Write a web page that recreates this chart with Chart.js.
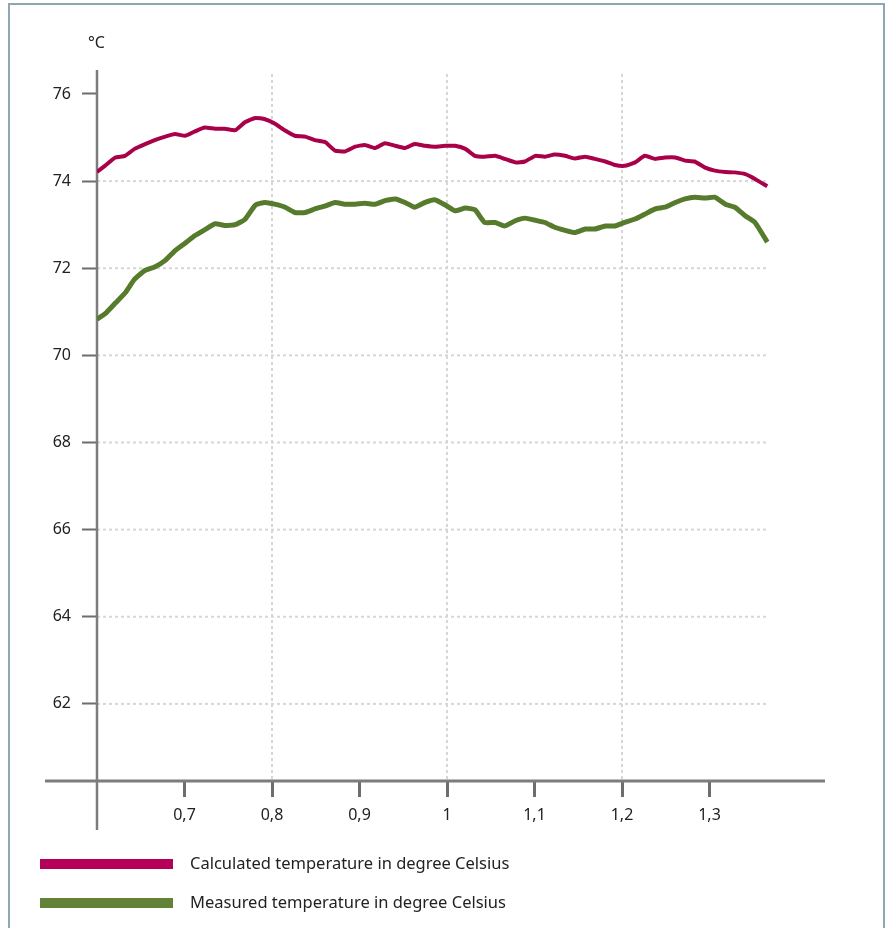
<!DOCTYPE html>
<html>
<head>
<meta charset="utf-8">
<script src="https://cdn.jsdelivr.net/npm/chart.js@4"></script>
<style>
  body { margin: 0; background: #fff; font-family: "Noto Sans", sans-serif; }
  #wrap { position: relative; width: 885px; height: 928px; overflow: hidden; }
  #frame { position: absolute; left: 8px; top: 3px; width: 873px; height: 940px; border: 2px solid #8ea7b7; }
  #unit { position: absolute; left: 88px; top: 31px; font-size: 16px; color: #222; }
  .leg { position: absolute; left: 40px; height: 10px; width: 133px; }
  .legText { position: absolute; left: 190px; font-size: 16.5px; color: #222; }
  canvas { position: absolute; left: 0; top: 0; }
</style>
</head>
<body>
<div id="wrap">
  <div id="frame"></div>
  <canvas id="chart" width="885" height="928"></canvas>
  <div id="unit">°C</div>
  <div class="leg" style="top:859px; background:#b40058;"></div>
  <div class="legText" style="top:851px;">Calculated temperature in degree Celsius</div>
  <div class="leg" style="top:898px; background:#628238;"></div>
  <div class="legText" style="top:890px;">Measured temperature in degree Celsius</div>
</div>
<script>
//datos
const xValues = [0.600, 0.609, 0.621, 0.632, 0.643, 0.655, 0.666, 0.678, 0.689, 0.701,
  0.712, 0.723, 0.735, 0.746, 0.758, 0.769, 0.781, 0.792, 0.803, 0.815,
  0.826, 0.838, 0.849, 0.861, 0.872, 0.883, 0.895, 0.906, 0.918, 0.929,
  0.941, 0.952, 0.963, 0.975, 0.986, 0.998, 1.009, 1.021, 1.032, 1.043,
  1.055, 1.066, 1.078, 1.089, 1.101, 1.112, 1.123, 1.135, 1.146, 1.158,
  1.169, 1.181, 1.192, 1.203, 1.215, 1.226, 1.238, 1.249, 1.261, 1.272,
  1.283, 1.295, 1.306, 1.318, 1.329, 1.341, 1.352, 1.366];

const calculated = [74.21, 74.35, 74.54, 74.58, 74.74, 74.85, 74.94, 75.02, 75.08, 75.04,
  75.14, 75.23, 75.20, 75.20, 75.17, 75.35, 75.45, 75.42, 75.32, 75.16,
  75.04, 75.02, 74.94, 74.89, 74.70, 74.68, 74.79, 74.83, 74.76, 74.87,
  74.81, 74.76, 74.85, 74.81, 74.79, 74.81, 74.81, 74.74, 74.58, 74.56,
  74.58, 74.51, 74.43, 74.45, 74.58, 74.56, 74.61, 74.58, 74.52, 74.56,
  74.51, 74.45, 74.37, 74.35, 74.43, 74.58, 74.51, 74.54, 74.54, 74.47,
  74.45, 74.31, 74.24, 74.21, 74.20, 74.16, 74.05, 73.88];

const measured = [70.83, 70.95, 71.20, 71.43, 71.75, 71.95, 72.03, 72.18, 72.40, 72.58,
  72.75, 72.88, 73.02, 72.98, 73.00, 73.12, 73.45, 73.51, 73.47, 73.40,
  73.28, 73.28, 73.36, 73.43, 73.51, 73.47, 73.47, 73.49, 73.47, 73.55,
  73.59, 73.51, 73.40, 73.51, 73.57, 73.45, 73.32, 73.38, 73.34, 73.05,
  73.05, 72.97, 73.09, 73.15, 73.10, 73.05, 72.94, 72.87, 72.82, 72.90,
  72.90, 72.97, 72.97, 73.05, 73.13, 73.24, 73.36, 73.40, 73.51, 73.59,
  73.63, 73.61, 73.63, 73.47, 73.40, 73.20, 73.05, 72.60];

const yTicks = [62, 64, 66, 68, 70, 72, 74, 76];
const xTicks = [0.7, 0.8, 0.9, 1.0, 1.1, 1.2, 1.3];
const xLabels = ["0,7", "0,8", "0,9", "1", "1,1", "1,2", "1,3"];
const xGrid = [0.8, 1.0, 1.2];

//convertir a puntos x,y
const toPoints = (values) => values.map((v, i) => ({ x: xValues[i], y: v }));

//dibujar ejes y grilla punteada con las escalas de chart.js
const axesPlugin = {
  id: "axesPlugin",
  beforeDatasetsDraw: (chart) => {
    const ctx = chart.ctx;
    const xs = chart.scales.x;
    const ys = chart.scales.y;
    const area = chart.chartArea;
    const xStart = xs.getPixelForValue(0.6);
    const xEnd = xs.getPixelForValue(xValues[xValues.length - 1]);
    ctx.save();
    ctx.strokeStyle = "#d6d6d6";
    ctx.lineWidth = 2;
    ctx.setLineDash([3, 3]);
    yTicks.filter((t) => t < 76).forEach((t) => {
      const y = ys.getPixelForValue(t);
      ctx.beginPath();
      ctx.moveTo(xStart, y);
      ctx.lineTo(xEnd, y);
      ctx.stroke();
    });
    xGrid.forEach((t) => {
      const x = xs.getPixelForValue(t);
      ctx.beginPath();
      ctx.moveTo(x, area.top + 4);
      ctx.lineTo(x, area.bottom);
      ctx.stroke();
    });
    ctx.setLineDash([]);
    //ejes
    ctx.strokeStyle = "#7d7d7d";
    ctx.lineWidth = 3;
    ctx.beginPath();
    ctx.moveTo(45, area.bottom);
    ctx.lineTo(area.right, area.bottom);
    ctx.stroke();
    ctx.lineWidth = 2.5;
    ctx.beginPath();
    ctx.moveTo(xStart, area.top);
    ctx.lineTo(xStart, area.bottom + 49);
    ctx.stroke();
    ctx.restore();
  }
};

const config = {
  type: "line",
  data: {
    datasets: [
      {
        label: "Calculated temperature in degree Celsius",
        data: toPoints(calculated),
        borderColor: "#a9004a",
        borderWidth: 4,
        pointRadius: 0,
        tension: 0.15
      },
      {
        label: "Measured temperature in degree Celsius",
        data: toPoints(measured),
        borderColor: "#567b2c",
        borderWidth: 5,
        pointRadius: 0,
        tension: 0.15
      }
    ]
  },
  options: {
    responsive: false,
    animation: false,
    layout: { padding: { left: 37, right: 60, top: 70, bottom: 97 } },
    plugins: { legend: { display: false }, tooltip: { enabled: false } },
    scales: {
      x: {
        type: "linear",
        min: 0.6,
        max: 1.432,
        afterBuildTicks: (scale) => { scale.ticks = xTicks.map((v) => ({ value: v })); },
        afterFit: (scale) => { scale.height = 50; },
        grid: { drawOnChartArea: false, tickLength: 16, tickColor: "#6d6d6d", tickWidth: 3 },
        border: { display: false },
        ticks: {
          padding: 9,
          color: "#222",
          font: { family: "Noto Sans", size: 16 },
          maxRotation: 0,
          callback: (v) => xLabels[xTicks.findIndex((t) => Math.abs(t - v) < 1e-6)]
        }
      },
      y: {
        min: 60.23,
        max: 76.55,
        afterBuildTicks: (scale) => { scale.ticks = yTicks.map((v) => ({ value: v })); },
        afterFit: (scale) => { scale.width = 60; },
        grid: { drawOnChartArea: false, tickLength: 15, tickColor: "#6d6d6d", tickWidth: 2 },
        border: { display: false },
        ticks: {
          padding: 11,
          color: "#222",
          font: { family: "Noto Sans", size: 16 }
        }
      }
    }
  },
  plugins: [axesPlugin]
};

const myChart = new Chart(document.getElementById("chart"), config);
</script>
</body>
</html>
